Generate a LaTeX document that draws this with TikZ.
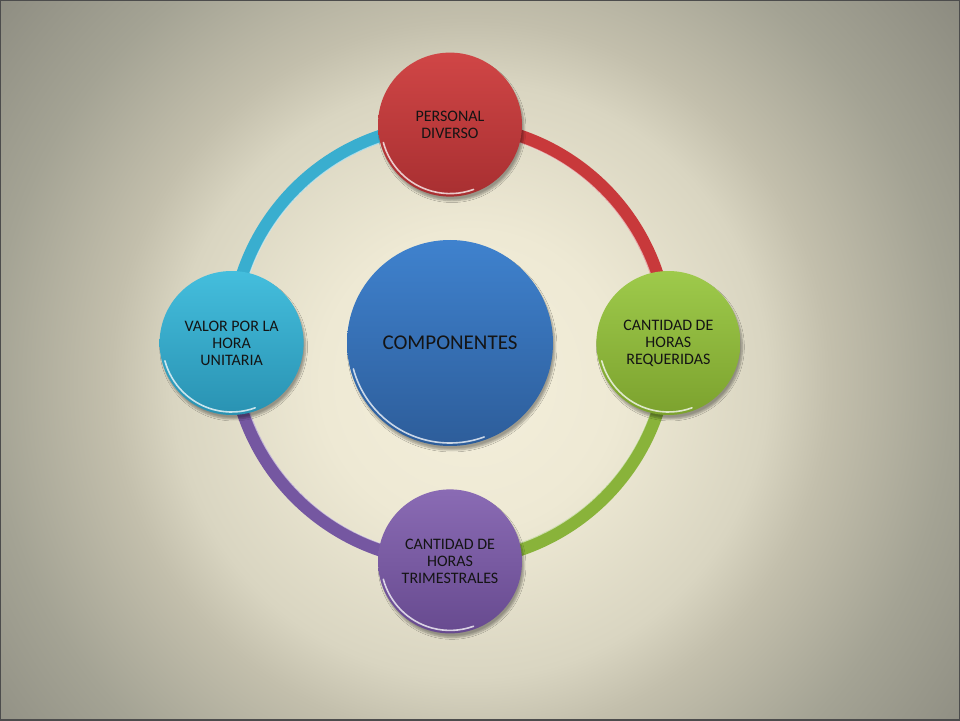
\documentclass[tikz,border=0pt]{standalone}
\usepackage{fontspec}
\setmainfont{Carlito}
\usetikzlibrary{positioning,shadows.blur}

\definecolor{bgA}{HTML}{F4EFDB}
\definecolor{bgB}{HTML}{EEE9D4}
\definecolor{bgC}{HTML}{D9D5C1}
\definecolor{bgD}{HTML}{C3BFAC}
\definecolor{bgE}{HTML}{A4A394}
\definecolor{bgF}{HTML}{8C8B80}
\definecolor{redT}{HTML}{D04646}
\definecolor{redB}{HTML}{A82F31}
\definecolor{redR}{HTML}{C8393B}
\definecolor{greenT}{HTML}{9ECA4B}
\definecolor{greenB}{HTML}{7CA22E}
\definecolor{greenR}{HTML}{89B33A}
\definecolor{purpleT}{HTML}{8A6BB4}
\definecolor{purpleB}{HTML}{674A8F}
\definecolor{purpleR}{HTML}{7557A1}
\definecolor{cyanT}{HTML}{44BEDD}
\definecolor{cyanB}{HTML}{2992B2}
\definecolor{cyanR}{HTML}{39AECF}
\definecolor{blueT}{HTML}{3F82CE}
\definecolor{blueB}{HTML}{2D5D9A}

\pgfdeclareradialshading{slidebg}{\pgfpoint{0bp}{0bp}}{%
  color(0bp)=(bgA); color(6bp)=(bgB); color(12bp)=(bgC);
  color(14.5bp)=(bgD); color(19.4bp)=(bgE); color(25bp)=(bgF); color(35bp)=(bgF)}

\pgfdeclarelayer{bg}
\pgfdeclarelayer{ring}
\pgfsetlayers{bg,ring,main}

\tikzset{
  bubble/.style 2 args={circle, minimum size=144pt, inner sep=0pt, align=center,
    top color=#1, bottom color=#2, text=black!92,
    font=\fontsize{16}{17}\selectfont,
    blur shadow={shadow xshift=2pt, shadow yshift=-4pt, shadow blur steps=6, shadow opacity=35}},
  ring/.style={line width=13pt, draw=#1},
  sheen/.style={white, line width=1.6pt, line cap=round, opacity=0.75},
}

\begin{document}
\begin{tikzpicture}[x=1pt, y=1pt, node distance=43pt]
  \useasboundingbox (-450,-377) rectangle (510,343);

  % centre and the four parts
  \node[bubble={blueT}{blueB}, minimum size=206pt, font=\fontsize{21}{24}\selectfont] (hub) at (0,0) {COMPONENTES};
  \node[bubble={redT}{redB}, above=of hub] (personal) {PERSONAL\\DIVERSO};
  \node[bubble={greenT}{greenB}, right=of hub] (horasreq) {CANTIDAD DE\\HORAS\\REQUERIDAS};
  \node[bubble={purpleT}{purpleB}, below=of hub] (horastrim) {CANTIDAD DE\\HORAS\\TRIMESTRALES};
  \node[bubble={cyanT}{cyanB}, left=of hub] (valor) {VALOR POR LA\\HORA\\UNITARIA};

  % gloss on the rims
  \draw[sheen] (personal.center) ++(195:69) arc[start angle=195, end angle=290, radius=69];
  \draw[sheen] (horasreq.center) ++(195:69) arc[start angle=195, end angle=290, radius=69];
  \draw[sheen] (horastrim.center) ++(195:69) arc[start angle=195, end angle=290, radius=69];
  \draw[sheen] (valor.center) ++(195:69) arc[start angle=195, end angle=290, radius=69];
  \draw[sheen] (hub.center) ++(195:100) arc[start angle=195, end angle=290, radius=100];

  % ring between the parts
  \begin{pgfonlayer}{ring}
    \draw[ring=redR] (personal.center) arc[start angle=90, end angle=0, radius=218];
    \draw[ring=greenR] (horasreq.center) arc[start angle=0, end angle=-90, radius=218];
    \draw[ring=purpleR] (horastrim.center) arc[start angle=-90, end angle=-180, radius=218];
    \draw[ring=cyanR] (valor.center) arc[start angle=180, end angle=90, radius=218];
    \draw[white, line width=1pt, opacity=0.55] (hub.center) circle[radius=212];
  \end{pgfonlayer}

  % slide background
  \begin{pgfonlayer}{bg}
    \begin{scope}
      \clip (-450,-377) rectangle (510,343);
      \shade[shading=slidebg] (-600,-657) rectangle (640,583);
      \draw[black!70, line width=3pt] (-450,-377) rectangle (510,343);
    \end{scope}
  \end{pgfonlayer}
\end{tikzpicture}
\end{document}
